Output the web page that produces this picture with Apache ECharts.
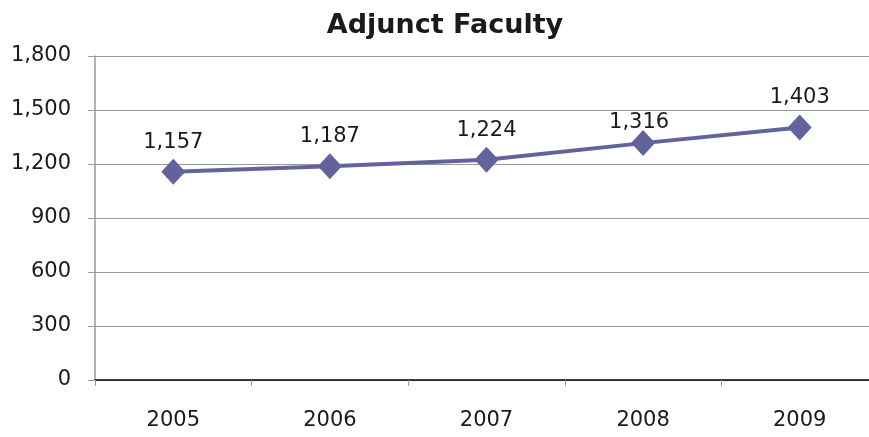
<!DOCTYPE html>
<html>
<head>
<meta charset="utf-8">
<script src="https://cdn.jsdelivr.net/npm/echarts@6/dist/echarts.min.js"></script>
<style>
html,body{margin:0;padding:0;background:#fff;overflow:hidden;}
#chart{width:878px;height:437px;}
</style>
</head>
<body>
<div id="chart"></div>
<script>
var years = ['2005', '2006', '2007', '2008', '2009'];
var faculty = [1157, 1187, 1224, 1316, 1403];
var yTicks = {min: 0, max: 1800, step: 300};

// plot runs a little past the right edge of the picture, like the original
var myChart = echarts.init(document.getElementById('chart'));

// the 2008 label sits a bit lower in the original
var seriesData = faculty.map(function (v, i) {
    if (i == 3) return {value: v, label: {offset: [-4, 9]}};
    return v;
});

var option = {
    animation: false,
    title: {
        text: 'Adjunct Faculty',
        left: 440,
        textAlign: 'center',
        top: 7,
        textStyle: {
            fontFamily: 'DejaVu Sans',
            fontWeight: 'bold',
            fontSize: 27,
            color: '#1a1a1a'
        }
    },
    grid: {left: 95, top: 56, right: 0, height: 324},
    xAxis: {
        type: 'category',
        data: years,
        boundaryGap: true,
        axisLine: {lineStyle: {color: '#000', width: 1.5}},
        axisTick: {show: true, length: 6, lineStyle: {color: '#999'}},
        axisLabel: {
            fontFamily: 'DejaVu Sans',
            fontSize: 21,
            color: '#1a1a1a',
            margin: 30
        }
    },
    yAxis: {
        type: 'value',
        min: yTicks.min,
        max: yTicks.max,
        interval: yTicks.step,
        axisLine: {show: true, lineStyle: {color: '#999', width: 1.5}},
        axisTick: {show: true, length: 7, lineStyle: {color: '#999'}},
        splitLine: {lineStyle: {color: '#999', width: 1.2}},
        axisLabel: {
            fontFamily: 'DejaVu Sans',
            fontSize: 21,
            color: '#1a1a1a',
            margin: 24,
            formatter: function (v) { return v.toLocaleString('en-US'); }
        }
    },
    series: [{
        type: 'line',
        data: seriesData,
        symbol: 'diamond',
        symbolSize: [24, 26],
        lineStyle: {color: '#62629c', width: 4},
        itemStyle: {color: '#62629c'},
        label: {
            show: true,
            position: 'top',
            distance: 6,
            fontFamily: 'DejaVu Sans',
            fontSize: 21,
            color: '#1a1a1a',
            formatter: function (p) { return p.value.toLocaleString('en-US'); }
        }
    }]
};
myChart.setOption(option);
</script>
</body>
</html>
